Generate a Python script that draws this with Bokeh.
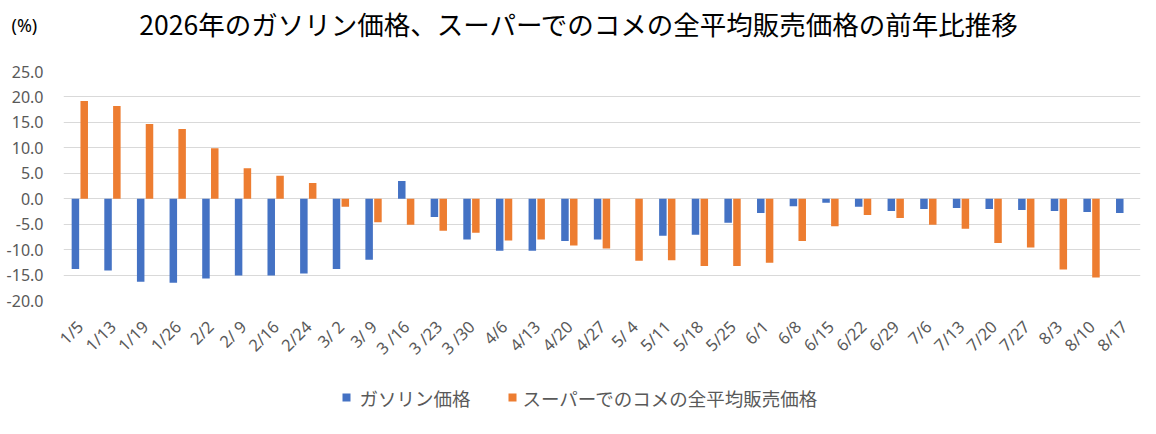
import math
from bokeh.plotting import figure
from bokeh.layouts import column
from bokeh.models import (ColumnDataSource, FactorRange, Range1d, Label,
                          FixedTicker, NumeralTickFormatter)
from bokeh.core.properties import value
from bokeh.transform import dodge
from bokeh.embed import file_html
from bokeh.resources import INLINE

NaN = float("nan")

dates = ["1/5", "1/13", "1/19", "1/26", "2/2", "2/ 9", "2/16", "2/24", "3/ 2", "3/ 9",
         "3 /16", "3 /23", "3 /30", "4/6", "4/13", "4/20", "4/27", "5/ 4", "5/11", "5/18",
         "5/25", "6/1", "6/8", "6/15", "6/22", "6/29", "7/6", "7/13", "7/20", "7/27",
         "8/3", "8/10", "8/17"]

gasoline = [-13.8, -14.1, -16.3, -16.5, -15.7, -15.1, -15.1, -14.7, -13.8, -12.0,
            3.5, -3.6, -8.0, -10.2, -10.2, -8.3, -8.0, NaN, -7.3, -7.1,
            -4.7, -2.8, -1.5, -0.8, -1.6, -2.4, -2.0, -1.8, -2.0, -2.2,
            -2.4, -2.6, -2.8]

rice = [19.2, 18.2, 14.7, 13.7, 9.9, 6.0, 4.5, 3.1, -1.6, -4.6,
        -5.1, -6.3, -6.7, -8.2, -8.0, -9.2, -9.8, -12.2, -12.1, -13.2,
        -13.2, -12.6, -8.3, -5.4, -3.2, -3.8, -5.1, -5.9, -8.7, -9.6,
        -13.9, -15.5, NaN]

y_ticks = [-20, -15, -10, -5, 0, 5, 10, 15, 20, 25]

title_text = "2026年のガソリン価格、スーパーでのコメの全平均販売価格の前年比推移"
unit_text = "(%)"
series_names = ["ガソリン価格", "スーパーでのコメの全平均販売価格"]
colors = ["#4472C4", "#ED7D31"]

JP = "Noto Sans CJK JP"
GRAY = "#595959"
W = 1150


def blank_fig(h):
    f = figure(width=W, height=h, x_range=Range1d(0, W), y_range=Range1d(h, 0),
               output_backend="svg", toolbar_location=None, title=None,
               x_axis_location=None, y_axis_location=None,
               min_border_left=0, min_border_right=0, min_border_top=0, min_border_bottom=0)
    f.outline_line_color = None
    f.grid.grid_line_color = None
    f.frame_align = False
    return f


# --- title row ---
top = blank_fig(60)
top.add_layout(Label(x=579, y=23, text=title_text, text_align="center",
                     text_baseline="middle", text_font=JP, text_font_size="26.5px",
                     text_color="black"))
top.add_layout(Label(x=11, y=24, text=unit_text, text_align="left",
                     text_baseline="middle", text_font="Noto Sans",
                     text_font_size="18px", text_color="black"))

# --- main chart ---
source = ColumnDataSource(data=dict(date=dates, gas=gasoline, rice=rice))

p = figure(width=W, height=310, x_range=FactorRange(*dates), y_range=Range1d(-20, 25),
           output_backend="svg", toolbar_location=None, title=None,
           min_border_left=63, min_border_right=10, min_border_top=11, min_border_bottom=70)
p.outline_line_color = None
p.frame_align = False

r1 = p.vbar(x=dodge("date", -0.135, range=p.x_range), top="gas", bottom=0, width=0.23,
            source=source, fill_color=colors[0], line_color=None)
r2 = p.vbar(x=dodge("date", 0.135, range=p.x_range), top="rice", bottom=0, width=0.23,
            source=source, fill_color=colors[1], line_color=None)

p.xgrid.grid_line_color = None
p.ygrid.grid_line_color = "#d9d9d9"
p.ygrid.grid_line_width = 1

p.yaxis.ticker = FixedTicker(ticks=y_ticks)
p.yaxis.formatter = NumeralTickFormatter(format="0.0")
for ax in (p.xaxis[0], p.yaxis[0]):
    ax.axis_line_color = None
    ax.major_tick_line_color = None
    ax.minor_tick_line_color = None
    ax.major_label_text_color = GRAY
    ax.major_label_text_font = "Noto Sans"
p.yaxis.major_label_text_font_size = "16px"
p.yaxis.major_label_standoff = 14
p.xaxis.major_label_text_font_size = "16.5px"
p.xaxis.major_label_orientation = math.pi / 4
p.xaxis.major_label_standoff = 17

# --- legend row (figure rows 370..434) ---
bot = blank_fig(64)
key_x = [346, 512]
text_x = [359, 522]
key_y = 27
bot.scatter(x=key_x, y=[key_y, key_y], marker="square", size=8,
            fill_color=colors, line_color=None)
bot.text(x=text_x, y=[key_y, key_y], text=series_names, text_align="left",
         text_baseline="middle", text_font=value(JP), text_font_size="18.5px",
         text_color=GRAY)

layout = column(top, p, bot, spacing=0)
open("out.html", "w").write(file_html(layout, INLINE))
